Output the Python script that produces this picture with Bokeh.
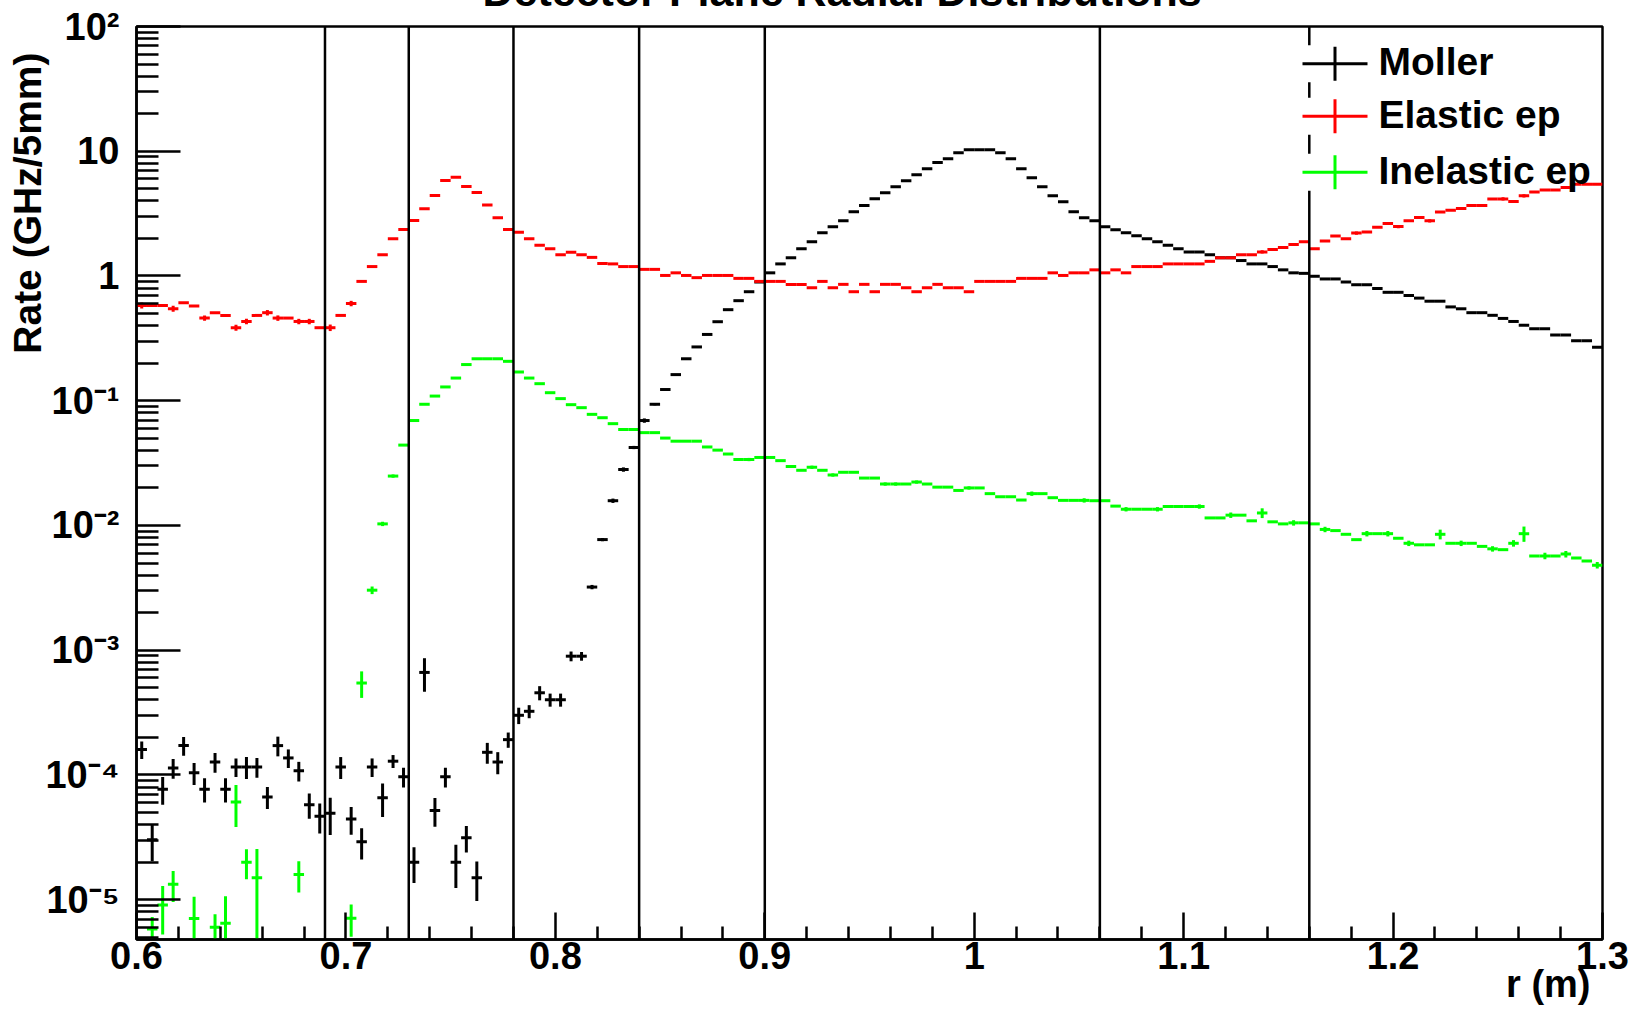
import math
import numpy as np
from bokeh.plotting import figure
from bokeh.models import ColumnDataSource, Range1d, FixedTicker, Label, Title, CustomJSTickFormatter
from bokeh.embed import file_html
from bokeh.resources import INLINE

# ---- binning of the radial histograms (5 mm bins) ----
R_MIN, R_MAX, BIN_W = 0.6, 1.3, 0.005
RATE_MIN, RATE_MAX = 4.8e-6, 1.0e2

# ---- rates per bin (GHz / 5 mm) ----
moller = [
    1.60e-4, 3.03e-5, 7.70e-5, 1.14e-4, 1.72e-4, 1.04e-4, 7.70e-5, 1.27e-4, 7.70e-5, 1.16e-4,
    1.16e-4, 1.16e-4, 6.67e-5, 1.72e-4, 1.37e-4, 1.08e-4, 5.78e-5, 4.66e-5, 4.93e-5, 1.16e-4,
    4.43e-5, 2.92e-5, 1.16e-4, 6.57e-5, 1.29e-4, 9.69e-5, 2.00e-5, 6.64e-4, 5.19e-5, 9.69e-5,
    2.00e-5, 3.14e-5, 1.50e-5, 1.52e-4, 1.27e-4, 1.92e-4, 3.01e-4, 3.24e-4, 4.56e-4, 4.01e-4,
    4.01e-4, 8.96e-4, 8.96e-4, 3.21e-3, 7.71e-3, 1.58e-2, 2.81e-2, 4.22e-2, 6.94e-2, 9.37e-2,
    0.123, 0.162, 0.217, 0.270, 0.340, 0.430, 0.537, 0.634, 0.748, 0.895,
    1.06, 1.25, 1.40, 1.65, 1.88, 2.22, 2.48, 2.77, 3.27, 3.68,
    4.16, 4.65, 5.19, 5.80, 6.47, 7.23, 8.13, 8.70, 9.72, 10.3,
    10.3, 10.3, 9.72, 8.70, 7.23, 6.13, 5.19, 4.40, 3.93, 3.27,
    2.93, 2.77, 2.48, 2.35, 2.22, 2.10, 1.99, 1.88, 1.76, 1.65,
    1.56, 1.56, 1.48, 1.40, 1.40, 1.33, 1.25, 1.25, 1.19, 1.12,
    1.06, 1.05, 0.995, 0.947, 0.947, 0.895, 0.851, 0.851, 0.794, 0.740,
    0.740, 0.698, 0.665, 0.628, 0.628, 0.565, 0.546, 0.508, 0.508, 0.484,
    0.457, 0.432, 0.403, 0.378, 0.378, 0.337, 0.337, 0.303, 0.303, 0.269,
]

elastic = [
    0.581, 0.581, 0.581, 0.547, 0.611, 0.574, 0.460, 0.508, 0.483, 0.385,
    0.432, 0.483, 0.508, 0.460, 0.460, 0.432, 0.432, 0.385, 0.385, 0.483,
    0.602, 0.905, 1.19, 1.48, 1.99, 2.36, 2.79, 3.46, 4.42, 5.83,
    6.20, 5.22, 4.68, 3.70, 2.93, 2.36, 2.24, 1.99, 1.76, 1.65,
    1.48, 1.55, 1.48, 1.41, 1.26, 1.25, 1.19, 1.19, 1.13, 1.13,
    1.01, 1.06, 1.01, 0.97, 1.01, 1.01, 1.01, 0.957, 0.957, 0.905,
    0.905, 0.905, 0.855, 0.855, 0.805, 0.905, 0.805, 0.857, 0.748, 0.857,
    0.748, 0.857, 0.857, 0.805, 0.748, 0.805, 0.857, 0.805, 0.805, 0.748,
    0.905, 0.905, 0.905, 0.905, 0.957, 0.957, 0.957, 1.06, 1.01, 1.06,
    1.06, 1.12, 1.06, 1.12, 1.06, 1.19, 1.19, 1.19, 1.25, 1.25,
    1.25, 1.25, 1.31, 1.40, 1.40, 1.48, 1.48, 1.56, 1.63, 1.69,
    1.79, 1.88, 1.65, 1.91, 2.09, 1.99, 2.21, 2.25, 2.46, 2.64,
    2.49, 2.77, 2.94, 2.77, 3.26, 3.36, 3.48, 3.68, 3.68, 4.15,
    4.15, 3.95, 4.40, 4.71, 4.88, 4.88, 5.13, 5.43, 5.43, 5.43,
]

# empty bins are 0 and are not drawn on the log axis
inelastic = [
    0, 5.82e-6, 9.08e-6, 1.33e-5, 0, 7.06e-6, 0, 6.03e-6, 6.47e-6, 6.08e-5,
    2.00e-5, 1.50e-5, 0, 0, 0, 1.59e-5, 0, 0, 0, 0,
    7.11e-6, 5.46e-4, 3.03e-3, 1.03e-2, 2.49e-2, 4.41e-2, 6.94e-2, 9.37e-2, 0.109, 0.129,
    0.152, 0.195, 0.217, 0.217, 0.217, 0.207, 0.170, 0.152, 0.137, 0.116,
    0.104, 0.093, 0.088, 0.0778, 0.0731, 0.0655, 0.0588, 0.0588, 0.0555, 0.0555,
    0.0502, 0.0474, 0.0474, 0.0474, 0.0426, 0.0402, 0.0374, 0.0338, 0.0338, 0.0351,
    0.0351, 0.0331, 0.0297, 0.0277, 0.0293, 0.0277, 0.0254, 0.0267, 0.0267, 0.0240,
    0.0240, 0.0215, 0.0215, 0.0215, 0.0223, 0.0215, 0.0203, 0.0203, 0.0191, 0.0200,
    0.0200, 0.0180, 0.0170, 0.0170, 0.0160, 0.0180, 0.0180, 0.0167, 0.0159, 0.0159,
    0.0159, 0.0158, 0.0158, 0.0143, 0.0135, 0.0135, 0.0135, 0.0135, 0.0142, 0.0142,
    0.0142, 0.0142, 0.0115, 0.0115, 0.0121, 0.0121, 0.0109, 0.0126, 0.0107, 0.0103,
    0.0105, 0.0105, 0.0103, 0.0093, 0.0091, 0.0085, 0.0077, 0.0086, 0.0086, 0.0086,
    0.0079, 0.0072, 0.0070, 0.0070, 0.0085, 0.0072, 0.0072, 0.0072, 0.0068, 0.0065,
    0.0064, 0.0072, 0.0086, 0.0057, 0.0057, 0.0057, 0.0059, 0.0055, 0.0052, 0.0048,
]

# relative statistical errors of the bins (bins not listed: below line width)
moller_rel_err = {
    0: 0.16, 1: 0.33, 2: 0.25, 3: 0.18, 4: 0.17, 5: 0.20, 6: 0.22, 7: 0.18, 8: 0.22, 9: 0.17,
    10: 0.20, 11: 0.18, 12: 0.20, 13: 0.18, 14: 0.17, 15: 0.18, 16: 0.23, 17: 0.27, 18: 0.33,
    19: 0.20, 20: 0.25, 21: 0.28, 22: 0.17, 23: 0.30, 24: 0.12, 25: 0.18, 26: 0.32, 27: 0.30,
    28: 0.26, 29: 0.18, 30: 0.38, 31: 0.24, 32: 0.35, 33: 0.19, 34: 0.20, 35: 0.14, 36: 0.15,
    37: 0.12, 38: 0.13, 39: 0.12, 40: 0.12, 41: 0.09, 42: 0.08, 43: 0.04, 44: 0.03, 45: 0.04,
    46: 0.04, 47: 0.03, 48: 0.04, 49: 0.02,
}
elastic_rel_err = {
    0: 0.055, 3: 0.055, 6: 0.05, 9: 0.055, 10: 0.05, 12: 0.05, 13: 0.05, 15: 0.05, 16: 0.05,
    18: 0.06, 20: 0.05, 107: 0.03, 116: 0.03, 120: 0.03, 123: 0.03, 130: 0.03, 132: 0.03,
}
inelastic_rel_err = {
    1: 0.25, 2: 0.42, 3: 0.28, 5: 0.50, 7: 0.27, 8: 0.65, 9: 0.37, 10: 0.27, 11: 0.70,
    15: 0.28, 20: 0.29, 21: 0.24, 22: 0.07, 23: 0.04, 24: 0.03,
    58: 0.03, 64: 0.03, 66: 0.03, 71: 0.03, 72: 0.03, 74: 0.03, 79: 0.03, 85: 0.04,
    90: 0.04, 94: 0.04, 97: 0.04, 101: 0.04, 104: 0.05, 107: 0.09, 110: 0.05, 113: 0.05,
    117: 0.05, 119: 0.05, 121: 0.05, 124: 0.09, 126: 0.05, 129: 0.05, 131: 0.06, 132: 0.14,
    134: 0.06, 136: 0.06, 139: 0.06,
}

# ring boundaries of the detector plane (m)
ring_edges = [0.69, 0.73, 0.78, 0.84, 0.90, 1.06, 1.16]

series_names = ["Moller", "Elastic ep", "Inelastic ep"]
series_colors = ["#000000", "#ff0000", "#00ff00"]

# ---- page / frame geometry (pixels, measured from the visible page top) ----
W, H = 1633, 1010
FL, FR, FT, FB = 136, 31, 26, 71
TOP_HIDDEN = 60          # canvas rows that sit above the page top (title overflows there)
frame_w = W - FL - FR
frame_h = H - FT - FB
dec_px = frame_h / (math.log10(RATE_MAX) - math.log10(RATE_MIN))


def fx(px):
    """page x pixel -> r"""
    return R_MIN + (px - FL) * (R_MAX - R_MIN) / frame_w


def fy(py):
    """page y pixel -> rate"""
    return 10 ** (math.log10(RATE_MAX) - (py - FT) / dec_px)


FONT = "Liberation Sans"
LW = 2.5
DATA_LW = 3

p = figure(width=W, height=H + TOP_HIDDEN, x_range=Range1d(R_MIN, R_MAX), y_range=Range1d(RATE_MIN, RATE_MAX),
           y_axis_type="log", output_backend="svg", toolbar_location=None,
           min_border_left=FL, min_border_right=FR, min_border_top=FT + TOP_HIDDEN, min_border_bottom=FB,
           margin=(-TOP_HIDDEN, 0, 0, 0))
p.grid.visible = False
p.background_fill_color = "white"
p.border_fill_color = "white"
p.outline_line_color = "black"
p.outline_line_width = LW
p.outline_line_alpha = 1.0

# main title, running off the top of the page
p.title = Title(text="Detector Plane Radial Distributions", align="left", vertical_align="bottom",
                offset=346, standoff=24, text_font=FONT, text_font_style="bold",
                text_font_size="43px", text_color="black")

# x axis: major every 0.1, minor every 0.02
x_major = [round(R_MIN + 0.1 * i, 2) for i in range(8)]
x_minor = [round(R_MIN + 0.02 * i, 2) for i in range(36) if i % 5 != 0]
xa = p.xaxis[0]
xa.ticker = FixedTicker(ticks=x_major, minor_ticks=x_minor)
xa.formatter = CustomJSTickFormatter(code="const s = tick.toFixed(1); return s.endsWith('.0') ? s.slice(0, -2) : s;")
xa.major_tick_in, xa.major_tick_out = 27, 0
xa.minor_tick_in, xa.minor_tick_out = 13, 0
xa.major_tick_line_width = LW
xa.minor_tick_line_width = LW
xa.axis_line_width = LW
xa.major_label_text_font = FONT
xa.major_label_text_font_style = "bold"
xa.major_label_text_font_size = "38px"
xa.major_label_text_color = "black"
xa.major_label_standoff = 2

# y axis: decades labelled 10^n, with 2..9 minor ticks
decades = list(range(-5, 3))
y_major = [10.0 ** d for d in decades]
y_minor = [k * 10.0 ** d for d in range(-6, 2) for k in range(2, 10) if RATE_MIN <= k * 10.0 ** d <= RATE_MAX]
ya = p.yaxis[0]
ya.ticker = FixedTicker(ticks=y_major, minor_ticks=y_minor)
ya.formatter = CustomJSTickFormatter(code="""
const e = Math.round(Math.log10(tick));
if (e === 0) return "1";
if (e === 1) return "10";
const sup = {"-": "\\u207b", "0": "\\u2070", "1": "\\u00b9", "2": "\\u00b2", "3": "\\u00b3",
             "4": "\\u2074", "5": "\\u2075", "6": "\\u2076", "7": "\\u2077", "8": "\\u2078", "9": "\\u2079"};
return "10" + String(e).split("").map((c) => sup[c]).join("");
""")
ya.major_tick_in, ya.major_tick_out = 44, 0
ya.minor_tick_in, ya.minor_tick_out = 22, 0
ya.major_tick_line_width = LW
ya.minor_tick_line_width = LW
ya.axis_line_width = LW
ya.major_label_text_font = FONT
ya.major_label_text_font_style = "bold"
ya.major_label_text_font_size = "38px"
ya.major_label_text_color = "black"
ya.major_label_standoff = 17

# axis titles
p.add_layout(Title(text="Rate (GHz/5mm)", align="right", vertical_align="top", standoff=-16, offset=26,
                   text_font=FONT, text_font_style="bold", text_font_size="39px", text_color="black"), "left")
p.add_layout(Title(text="r (m)", align="right", vertical_align="bottom", standoff=-21, offset=12,
                   text_font=FONT, text_font_style="bold", text_font_size="38px", text_color="black"), "below")

# ---- histograms: bin-wide bars plus vertical error bars ----
n_bins = len(moller)
lo = R_MIN + BIN_W * np.arange(n_bins)
for vals, rel, color in zip([moller, elastic, inelastic],
                            [moller_rel_err, elastic_rel_err, inelastic_rel_err],
                            series_colors):
    v = np.asarray(vals, dtype=float)
    keep = v > 0
    p.segment(x0="x0", y0="y", x1="x1", y1="y", line_color=color, line_width=DATA_LW,
              source=ColumnDataSource(dict(x0=lo[keep], x1=lo[keep] + BIN_W, y=v[keep])))
    e = np.array([rel.get(i, 0.0) for i in range(n_bins)])
    ke = keep & (e > 0)
    p.segment(x0="x", y0="lo", x1="x", y1="hi", line_color=color, line_width=DATA_LW,
              source=ColumnDataSource(dict(x=lo[ke] + BIN_W / 2, lo=v[ke] * (1 - e[ke]), hi=v[ke] * (1 + e[ke]))))

# ---- legend layout (page pixels) ----
leg_rows = [63.3, 115.7, 171.7]
leg_sym_x0, leg_sym_x1, leg_sym_xc, leg_text_x = 1302, 1367, 1334.5, 1378
leg_left, leg_half_row = 1300, 18.5

# ---- ring boundary lines (interrupted behind the legend rows) ----
rx, ry0, ry1 = [], [], []
for edge in ring_edges:
    if edge >= fx(leg_left):
        cuts = [FT]
        for row in leg_rows:
            cuts += [row - leg_half_row, row + leg_half_row]
        cuts.append(FT + frame_h)
        for a, b in zip(cuts[0::2], cuts[1::2]):
            rx.append(edge); ry0.append(fy(b)); ry1.append(fy(a))
    else:
        rx.append(edge); ry0.append(RATE_MIN); ry1.append(RATE_MAX)
p.segment(x0="x", y0="y0", x1="x", y1="y1", line_color="black", line_width=LW,
          source=ColumnDataSource(dict(x=rx, y0=ry0, y1=ry1)))

# ---- legend ----
for name, color, row in zip(series_names, series_colors, leg_rows):
    p.segment(x0=[fx(leg_sym_x0)], y0=[fy(row)], x1=[fx(leg_sym_x1)], y1=[fy(row)],
              line_color=color, line_width=LW + 0.5)
    p.segment(x0=[fx(leg_sym_xc)], y0=[fy(row + 17)], x1=[fx(leg_sym_xc)], y1=[fy(row - 17)],
              line_color=color, line_width=LW + 0.5)
    p.add_layout(Label(x=leg_text_x, y=row - 2 + TOP_HIDDEN, x_units="canvas", y_units="canvas", text=name,
                       text_font=FONT, text_font_style="bold", text_font_size="39px",
                       text_color="black", text_align="left", text_baseline="alphabetic"))

open("out.html", "w").write(file_html(p, INLINE))
